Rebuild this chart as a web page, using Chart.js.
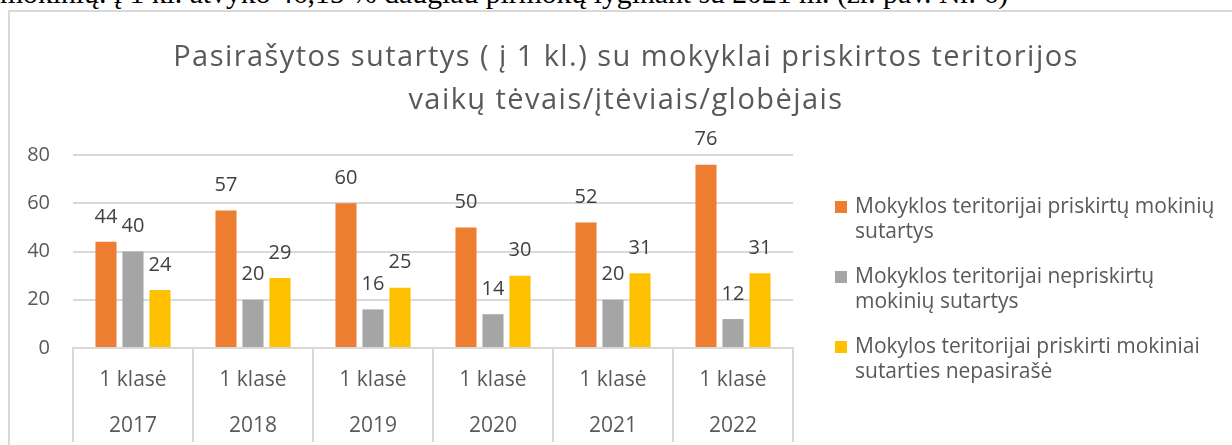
<!DOCTYPE html>
<html><head><meta charset="utf-8">
<script src="https://cdn.jsdelivr.net/npm/chart.js@4/dist/chart.umd.min.js"></script>
<style>
html,body{margin:0;padding:0;background:#fff;width:1232px;height:445px;overflow:hidden;position:relative}
#top{position:absolute;left:0;top:-21px;font-family:"Liberation Serif","Times New Roman",serif;font-size:29.7px;line-height:29.7px;color:#000;white-space:nowrap}
#frame{position:absolute;left:8px;top:10px;width:1400px;height:600px;border:2px solid #d9d9d9;box-sizing:border-box}
#c{position:absolute;left:0;top:0}
</style></head><body>
<div id="top">mokinių. į 1 kl. atvyko 46,15 % daugiau pirmokų lyginant su 2021 m. (žr. pav. Nr. 6)</div>
<div id="frame"></div>
<canvas id="c" width="1232" height="445"></canvas>
<script>
const titleLines = ['Pasirašytos sutartys ( į 1 kl.) su mokyklai priskirtos teritorijos', 'vaikų tėvais/įtėviais/globėjais'];
const classLabels = ['1 klasė', '1 klasė', '1 klasė', '1 klasė', '1 klasė', '1 klasė'];
const years = ['2017', '2018', '2019', '2020', '2021', '2022'];
const assignedName = ['Mokyklos teritorijai priskirtų mokinių', 'sutartys'];
const notAssignedName = ['Mokyklos teritorijai nepriskirtų', 'mokinių sutartys'];
const notSignedName = ['Mokylos teritorijai priskirti mokiniai', 'sutarties nepasirašė'];
const assigned = [44, 57, 60, 50, 52, 76];
const notAssigned = [40, 20, 16, 14, 20, 12];
const notSigned = [24, 29, 25, 30, 31, 31];
const yMin = 0, yMax = 80, yStep = 20;

const FONT = '"Open Sans", Lato, sans-serif';
const TXT = '#595959';
const GRID = '#d9d9d9';

const titlePlugin = {
  id: 'titleText',
  afterDraw(chart) {
    const ctx = chart.ctx;
    ctx.save();
    ctx.font = '29px ' + FONT;
    if ('letterSpacing' in ctx) ctx.letterSpacing = '1.45px';
    ctx.fillStyle = TXT;
    ctx.textAlign = 'center';
    ctx.textBaseline = 'alphabetic';
    ctx.fillText(titleLines[0], 626, 66);
    ctx.fillText(titleLines[1], 626, 109);
    ctx.restore();
  }
};

const valueLabels = {
  id: 'valueLabels',
  afterDatasetsDraw(chart) {
    const ctx = chart.ctx;
    ctx.save();
    ctx.font = '20px ' + FONT;
    ctx.fillStyle = '#404040';
    ctx.textAlign = 'center';
    ctx.textBaseline = 'middle';
    chart.data.datasets.forEach((ds, i) => {
      chart.getDatasetMeta(i).data.forEach((el, j) => {
        ctx.fillText(String(ds.data[j]), el.x, el.y - 25);
      });
    });
    ctx.restore();
  }
};

const separators = {
  id: 'separators',
  afterDraw(chart) {
    const ctx = chart.ctx, a = chart.chartArea;
    const n = chart.data.labels.length;
    ctx.save();
    ctx.strokeStyle = GRID;
    ctx.lineWidth = 2;
    for (let i = 0; i <= n; i++) {
      const x = Math.round(a.left + i * (a.right - a.left) / n);
      ctx.beginPath();
      ctx.moveTo(x, a.bottom);
      ctx.lineTo(x, 442);
      ctx.stroke();
    }
    ctx.restore();
  }
};

const sideLegend = {
  id: 'sideLegend',
  afterDraw(chart) {
    const ctx = chart.ctx;
    ctx.save();
    ctx.font = '21px ' + FONT;
    if ('letterSpacing' in ctx) ctx.letterSpacing = '0px';
    ctx.textAlign = 'left';
    ctx.textBaseline = 'middle';
    const starts = [207, 277, 347];
    chart.data.datasets.forEach((ds, i) => {
      const y0 = starts[i];
      ctx.fillStyle = ds.backgroundColor;
      ctx.fillRect(835, y0 - 6, 12, 12);
      ctx.fillStyle = TXT;
      ds.nameLines.forEach((line, k) => ctx.fillText(line, 855, y0 + k * 25));
    });
    ctx.restore();
  }
};

new Chart(document.getElementById('c'), {
  type: 'bar',
  data: {
    labels: classLabels.map((c, i) => [c, years[i]]),
    datasets: [
      { label: assignedName.join(' '), nameLines: assignedName, data: assigned, backgroundColor: '#ED7D31' },
      { label: notAssignedName.join(' '), nameLines: notAssignedName, data: notAssigned, backgroundColor: '#A5A5A5' },
      { label: notSignedName.join(' '), nameLines: notSignedName, data: notSigned, backgroundColor: '#FFC000' }
    ].map(d => Object.assign(d, { categoryPercentage: 0.675, barPercentage: 0.78, borderWidth: 0 }))
  },
  options: {
    responsive: false,
    animation: false,
    devicePixelRatio: 1,
    layout: { padding: { left: 0, top: 155, right: 439, bottom: 0 } },
    plugins: { legend: { display: false }, tooltip: { enabled: false }, title: { display: false } },
    scales: {
      x: {
        grid: { display: false },
        border: { display: true, color: GRID, width: 2 },
        ticks: { color: TXT, font: { family: FONT, size: 21, lineHeight: 2.2 }, padding: 1, maxRotation: 0, autoSkip: false },
        afterFit(s) { s.height = 97; }
      },
      y: {
        min: yMin, max: yMax,
        ticks: { stepSize: yStep, color: TXT, font: { family: FONT, size: 20 }, padding: 23 },
        grid: { color: GRID, lineWidth: 2, drawTicks: false },
        border: { display: false },
        afterFit(s) { s.width = 73; }
      }
    }
  },
  plugins: [titlePlugin, valueLabels, separators, sideLegend]
});
</script>
</body></html>
